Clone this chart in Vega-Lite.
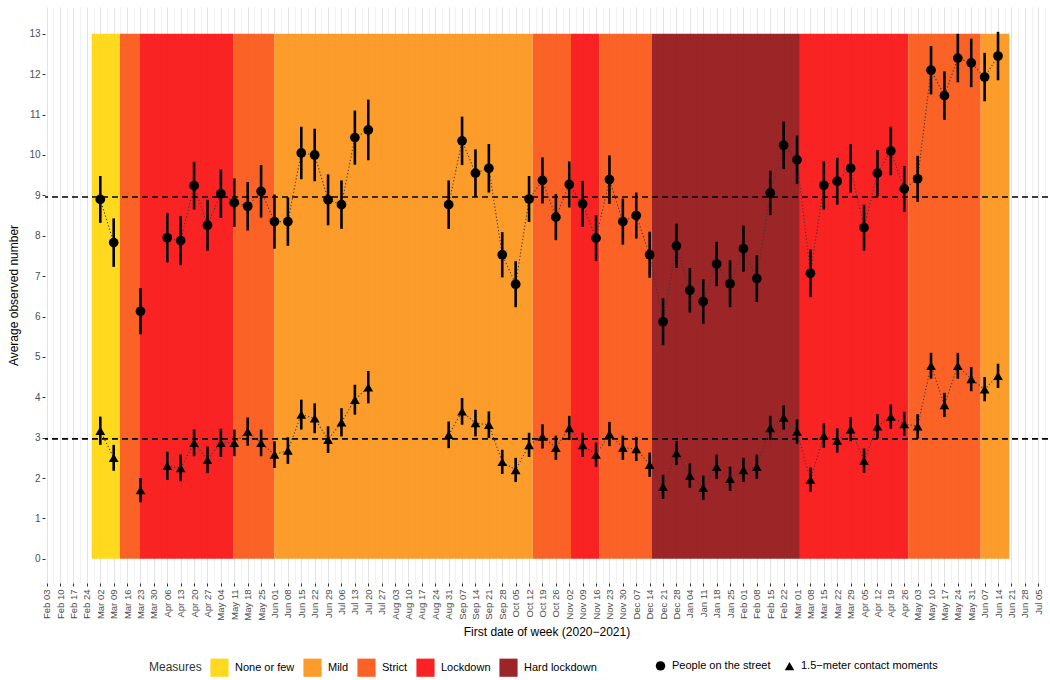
{
  "$schema": "https://vega.github.io/schema/vega-lite/v6.json",
  "autosize": {"type": "none"},
  "width": 1003,
  "height": 576,
  "padding": {"left": 45, "top": 7, "right": 2, "bottom": 97},
  "background": "white",
  "config": {
    "font": "Liberation Sans",
    "view": {"stroke": null},
    "axis": {"domain": false, "titleFontWeight": "normal", "titleColor": "#000000", "titleFontSize": 12, "labelColor": "#4d4d4d", "tickColor": "#333333", "tickSize": 3}
  },
  "datasets": {
    "bands": [
      {"m": "None or few", "s": "2020-02-26T12:00:00Z", "e": "2020-03-12T07:00:00Z"},
      {"m": "Strict", "s": "2020-03-12T07:00:00Z", "e": "2020-03-22T18:00:00Z"},
      {"m": "Lockdown", "s": "2020-03-22T18:00:00Z", "e": "2020-05-10T12:00:00Z"},
      {"m": "Strict", "s": "2020-05-10T12:00:00Z", "e": "2020-05-31T22:00:00Z"},
      {"m": "Mild", "s": "2020-05-31T22:00:00Z", "e": "2020-10-13T22:00:00Z"},
      {"m": "Strict", "s": "2020-10-13T22:00:00Z", "e": "2020-11-02T22:00:00Z"},
      {"m": "Lockdown", "s": "2020-11-02T22:00:00Z", "e": "2020-11-17T17:00:00Z"},
      {"m": "Strict", "s": "2020-11-17T17:00:00Z", "e": "2020-12-15T01:00:00Z"},
      {"m": "Hard lockdown", "s": "2020-12-15T01:00:00Z", "e": "2021-03-02T12:00:00Z"},
      {"m": "Lockdown", "s": "2021-03-02T12:00:00Z", "e": "2021-04-28T02:00:00Z"},
      {"m": "Strict", "s": "2021-04-28T02:00:00Z", "e": "2021-06-04T22:00:00Z"},
      {"m": "Mild", "s": "2021-06-04T22:00:00Z", "e": "2021-06-19T22:00:00Z"}
    ],
    "refs": [{"ref": 8.96}, {"ref": 2.97}],
    "weekly": [
      {"d": "2020-03-02", "s": "P", "g": "a", "v": 8.9, "lo": 8.32, "hi": 9.48},
      {"d": "2020-03-09", "s": "P", "g": "a", "v": 7.83, "lo": 7.23, "hi": 8.43},
      {"d": "2020-03-23", "s": "P", "g": "b", "v": 6.13, "lo": 5.56, "hi": 6.7},
      {"d": "2020-04-06", "s": "P", "g": "c", "v": 7.95, "lo": 7.34, "hi": 8.56},
      {"d": "2020-04-13", "s": "P", "g": "c", "v": 7.88, "lo": 7.27, "hi": 8.49},
      {"d": "2020-04-20", "s": "P", "g": "c", "v": 9.24, "lo": 8.65, "hi": 9.83},
      {"d": "2020-04-27", "s": "P", "g": "c", "v": 8.26, "lo": 7.63, "hi": 8.89},
      {"d": "2020-05-04", "s": "P", "g": "c", "v": 9.04, "lo": 8.44, "hi": 9.64},
      {"d": "2020-05-11", "s": "P", "g": "c", "v": 8.82, "lo": 8.22, "hi": 9.42},
      {"d": "2020-05-18", "s": "P", "g": "c", "v": 8.73, "lo": 8.13, "hi": 9.33},
      {"d": "2020-05-25", "s": "P", "g": "c", "v": 9.1, "lo": 8.45, "hi": 9.75},
      {"d": "2020-06-01", "s": "P", "g": "c", "v": 8.35, "lo": 7.68, "hi": 9.02},
      {"d": "2020-06-08", "s": "P", "g": "c", "v": 8.35, "lo": 7.75, "hi": 8.95},
      {"d": "2020-06-15", "s": "P", "g": "c", "v": 10.05, "lo": 9.4, "hi": 10.7},
      {"d": "2020-06-22", "s": "P", "g": "c", "v": 10.0, "lo": 9.35, "hi": 10.65},
      {"d": "2020-06-29", "s": "P", "g": "c", "v": 8.89, "lo": 8.26, "hi": 9.52},
      {"d": "2020-07-06", "s": "P", "g": "c", "v": 8.77, "lo": 8.17, "hi": 9.37},
      {"d": "2020-07-13", "s": "P", "g": "c", "v": 10.43, "lo": 9.76, "hi": 11.1},
      {"d": "2020-07-20", "s": "P", "g": "c", "v": 10.62, "lo": 9.87, "hi": 11.37},
      {"d": "2020-08-31", "s": "P", "g": "d", "v": 8.77, "lo": 8.17, "hi": 9.37},
      {"d": "2020-09-07", "s": "P", "g": "d", "v": 10.35, "lo": 9.75, "hi": 10.95},
      {"d": "2020-09-14", "s": "P", "g": "d", "v": 9.55, "lo": 8.96, "hi": 10.14},
      {"d": "2020-09-21", "s": "P", "g": "d", "v": 9.67, "lo": 9.07, "hi": 10.27},
      {"d": "2020-09-28", "s": "P", "g": "d", "v": 7.53, "lo": 6.97, "hi": 8.09},
      {"d": "2020-10-05", "s": "P", "g": "d", "v": 6.8, "lo": 6.23, "hi": 7.37},
      {"d": "2020-10-12", "s": "P", "g": "d", "v": 8.91, "lo": 8.34, "hi": 9.48},
      {"d": "2020-10-19", "s": "P", "g": "d", "v": 9.37, "lo": 8.8, "hi": 9.94},
      {"d": "2020-10-26", "s": "P", "g": "d", "v": 8.46, "lo": 7.89, "hi": 9.03},
      {"d": "2020-11-02", "s": "P", "g": "d", "v": 9.27, "lo": 8.7, "hi": 9.84},
      {"d": "2020-11-09", "s": "P", "g": "d", "v": 8.79, "lo": 8.22, "hi": 9.36},
      {"d": "2020-11-16", "s": "P", "g": "d", "v": 7.94, "lo": 7.37, "hi": 8.51},
      {"d": "2020-11-23", "s": "P", "g": "d", "v": 9.39, "lo": 8.79, "hi": 9.99},
      {"d": "2020-11-30", "s": "P", "g": "d", "v": 8.35, "lo": 7.78, "hi": 8.92},
      {"d": "2020-12-07", "s": "P", "g": "d", "v": 8.5, "lo": 7.93, "hi": 9.07},
      {"d": "2020-12-14", "s": "P", "g": "d", "v": 7.53, "lo": 6.96, "hi": 8.1},
      {"d": "2020-12-21", "s": "P", "g": "d", "v": 5.87, "lo": 5.29, "hi": 6.45},
      {"d": "2020-12-28", "s": "P", "g": "d", "v": 7.75, "lo": 7.2, "hi": 8.3},
      {"d": "2021-01-04", "s": "P", "g": "d", "v": 6.65, "lo": 6.1, "hi": 7.2},
      {"d": "2021-01-11", "s": "P", "g": "d", "v": 6.37, "lo": 5.82, "hi": 6.92},
      {"d": "2021-01-18", "s": "P", "g": "d", "v": 7.3, "lo": 6.75, "hi": 7.85},
      {"d": "2021-01-25", "s": "P", "g": "d", "v": 6.81, "lo": 6.23, "hi": 7.39},
      {"d": "2021-02-01", "s": "P", "g": "d", "v": 7.68, "lo": 7.11, "hi": 8.25},
      {"d": "2021-02-08", "s": "P", "g": "d", "v": 6.94, "lo": 6.36, "hi": 7.52},
      {"d": "2021-02-15", "s": "P", "g": "d", "v": 9.06, "lo": 8.51, "hi": 9.61},
      {"d": "2021-02-22", "s": "P", "g": "d", "v": 10.24, "lo": 9.65, "hi": 10.83},
      {"d": "2021-03-01", "s": "P", "g": "d", "v": 9.88, "lo": 9.28, "hi": 10.48},
      {"d": "2021-03-08", "s": "P", "g": "d", "v": 7.07, "lo": 6.48, "hi": 7.66},
      {"d": "2021-03-15", "s": "P", "g": "d", "v": 9.25, "lo": 8.65, "hi": 9.85},
      {"d": "2021-03-22", "s": "P", "g": "d", "v": 9.35, "lo": 8.77, "hi": 9.93},
      {"d": "2021-03-29", "s": "P", "g": "d", "v": 9.67, "lo": 9.07, "hi": 10.27},
      {"d": "2021-04-05", "s": "P", "g": "d", "v": 8.2, "lo": 7.63, "hi": 8.77},
      {"d": "2021-04-12", "s": "P", "g": "d", "v": 9.55, "lo": 8.98, "hi": 10.12},
      {"d": "2021-04-19", "s": "P", "g": "d", "v": 10.1, "lo": 9.5, "hi": 10.7},
      {"d": "2021-04-26", "s": "P", "g": "d", "v": 9.16, "lo": 8.59, "hi": 9.73},
      {"d": "2021-05-03", "s": "P", "g": "d", "v": 9.41, "lo": 8.84, "hi": 9.98},
      {"d": "2021-05-10", "s": "P", "g": "d", "v": 12.1, "lo": 11.5, "hi": 12.7},
      {"d": "2021-05-17", "s": "P", "g": "d", "v": 11.47, "lo": 10.87, "hi": 12.07},
      {"d": "2021-05-24", "s": "P", "g": "d", "v": 12.4, "lo": 11.8, "hi": 13.0},
      {"d": "2021-05-31", "s": "P", "g": "d", "v": 12.28, "lo": 11.68, "hi": 12.88},
      {"d": "2021-06-07", "s": "P", "g": "d", "v": 11.93, "lo": 11.33, "hi": 12.53},
      {"d": "2021-06-14", "s": "P", "g": "d", "v": 12.45, "lo": 11.85, "hi": 13.05},
      {"d": "2020-03-02", "s": "C", "g": "a", "v": 3.17, "lo": 2.82, "hi": 3.52},
      {"d": "2020-03-09", "s": "C", "g": "a", "v": 2.5, "lo": 2.18, "hi": 2.82},
      {"d": "2020-03-23", "s": "C", "g": "b", "v": 1.7, "lo": 1.4, "hi": 2.0},
      {"d": "2020-04-06", "s": "C", "g": "c", "v": 2.3, "lo": 1.95, "hi": 2.65},
      {"d": "2020-04-13", "s": "C", "g": "c", "v": 2.25, "lo": 1.92, "hi": 2.58},
      {"d": "2020-04-20", "s": "C", "g": "c", "v": 2.87, "lo": 2.54, "hi": 3.2},
      {"d": "2020-04-27", "s": "C", "g": "c", "v": 2.45, "lo": 2.12, "hi": 2.78},
      {"d": "2020-05-04", "s": "C", "g": "c", "v": 2.87, "lo": 2.52, "hi": 3.22},
      {"d": "2020-05-11", "s": "C", "g": "c", "v": 2.87, "lo": 2.54, "hi": 3.2},
      {"d": "2020-05-18", "s": "C", "g": "c", "v": 3.15, "lo": 2.8, "hi": 3.5},
      {"d": "2020-05-25", "s": "C", "g": "c", "v": 2.87, "lo": 2.54, "hi": 3.2},
      {"d": "2020-06-01", "s": "C", "g": "c", "v": 2.58, "lo": 2.25, "hi": 2.91},
      {"d": "2020-06-08", "s": "C", "g": "c", "v": 2.68, "lo": 2.35, "hi": 3.01},
      {"d": "2020-06-15", "s": "C", "g": "c", "v": 3.57, "lo": 3.2, "hi": 3.94},
      {"d": "2020-06-22", "s": "C", "g": "c", "v": 3.48, "lo": 3.11, "hi": 3.85},
      {"d": "2020-06-29", "s": "C", "g": "c", "v": 2.95, "lo": 2.62, "hi": 3.28},
      {"d": "2020-07-06", "s": "C", "g": "c", "v": 3.38, "lo": 3.03, "hi": 3.73},
      {"d": "2020-07-13", "s": "C", "g": "c", "v": 3.94, "lo": 3.57, "hi": 4.31},
      {"d": "2020-07-20", "s": "C", "g": "c", "v": 4.25, "lo": 3.85, "hi": 4.65},
      {"d": "2020-08-31", "s": "C", "g": "d", "v": 3.07, "lo": 2.74, "hi": 3.4},
      {"d": "2020-09-07", "s": "C", "g": "d", "v": 3.65, "lo": 3.32, "hi": 3.98},
      {"d": "2020-09-14", "s": "C", "g": "d", "v": 3.36, "lo": 3.03, "hi": 3.69},
      {"d": "2020-09-21", "s": "C", "g": "d", "v": 3.32, "lo": 2.99, "hi": 3.65},
      {"d": "2020-09-28", "s": "C", "g": "d", "v": 2.4, "lo": 2.1, "hi": 2.7},
      {"d": "2020-10-05", "s": "C", "g": "d", "v": 2.2, "lo": 1.9, "hi": 2.5},
      {"d": "2020-10-12", "s": "C", "g": "d", "v": 2.82, "lo": 2.52, "hi": 3.12},
      {"d": "2020-10-19", "s": "C", "g": "d", "v": 3.03, "lo": 2.73, "hi": 3.33},
      {"d": "2020-10-26", "s": "C", "g": "d", "v": 2.75, "lo": 2.45, "hi": 3.05},
      {"d": "2020-11-02", "s": "C", "g": "d", "v": 3.24, "lo": 2.94, "hi": 3.54},
      {"d": "2020-11-09", "s": "C", "g": "d", "v": 2.82, "lo": 2.52, "hi": 3.12},
      {"d": "2020-11-16", "s": "C", "g": "d", "v": 2.58, "lo": 2.28, "hi": 2.88},
      {"d": "2020-11-23", "s": "C", "g": "d", "v": 3.09, "lo": 2.79, "hi": 3.39},
      {"d": "2020-11-30", "s": "C", "g": "d", "v": 2.75, "lo": 2.45, "hi": 3.05},
      {"d": "2020-12-07", "s": "C", "g": "d", "v": 2.72, "lo": 2.42, "hi": 3.02},
      {"d": "2020-12-14", "s": "C", "g": "d", "v": 2.33, "lo": 2.03, "hi": 2.63},
      {"d": "2020-12-21", "s": "C", "g": "d", "v": 1.78, "lo": 1.48, "hi": 2.08},
      {"d": "2020-12-28", "s": "C", "g": "d", "v": 2.62, "lo": 2.32, "hi": 2.92},
      {"d": "2021-01-04", "s": "C", "g": "d", "v": 2.06, "lo": 1.76, "hi": 2.36},
      {"d": "2021-01-11", "s": "C", "g": "d", "v": 1.76, "lo": 1.46, "hi": 2.06},
      {"d": "2021-01-18", "s": "C", "g": "d", "v": 2.28, "lo": 1.98, "hi": 2.58},
      {"d": "2021-01-25", "s": "C", "g": "d", "v": 1.98, "lo": 1.68, "hi": 2.28},
      {"d": "2021-02-01", "s": "C", "g": "d", "v": 2.2, "lo": 1.9, "hi": 2.5},
      {"d": "2021-02-08", "s": "C", "g": "d", "v": 2.28, "lo": 1.98, "hi": 2.58},
      {"d": "2021-02-15", "s": "C", "g": "d", "v": 3.24, "lo": 2.94, "hi": 3.54},
      {"d": "2021-02-22", "s": "C", "g": "d", "v": 3.5, "lo": 3.2, "hi": 3.8},
      {"d": "2021-03-01", "s": "C", "g": "d", "v": 3.15, "lo": 2.85, "hi": 3.45},
      {"d": "2021-03-08", "s": "C", "g": "d", "v": 1.96, "lo": 1.66, "hi": 2.26},
      {"d": "2021-03-15", "s": "C", "g": "d", "v": 3.05, "lo": 2.75, "hi": 3.35},
      {"d": "2021-03-22", "s": "C", "g": "d", "v": 2.93, "lo": 2.63, "hi": 3.23},
      {"d": "2021-03-29", "s": "C", "g": "d", "v": 3.21, "lo": 2.91, "hi": 3.51},
      {"d": "2021-04-05", "s": "C", "g": "d", "v": 2.43, "lo": 2.13, "hi": 2.73},
      {"d": "2021-04-12", "s": "C", "g": "d", "v": 3.28, "lo": 2.98, "hi": 3.58},
      {"d": "2021-04-19", "s": "C", "g": "d", "v": 3.52, "lo": 3.22, "hi": 3.82},
      {"d": "2021-04-26", "s": "C", "g": "d", "v": 3.34, "lo": 3.04, "hi": 3.64},
      {"d": "2021-05-03", "s": "C", "g": "d", "v": 3.28, "lo": 2.98, "hi": 3.58},
      {"d": "2021-05-10", "s": "C", "g": "d", "v": 4.78, "lo": 4.46, "hi": 5.1},
      {"d": "2021-05-17", "s": "C", "g": "d", "v": 3.81, "lo": 3.51, "hi": 4.11},
      {"d": "2021-05-24", "s": "C", "g": "d", "v": 4.78, "lo": 4.46, "hi": 5.1},
      {"d": "2021-05-31", "s": "C", "g": "d", "v": 4.45, "lo": 4.15, "hi": 4.75},
      {"d": "2021-06-07", "s": "C", "g": "d", "v": 4.2, "lo": 3.9, "hi": 4.5},
      {"d": "2021-06-14", "s": "C", "g": "d", "v": 4.53, "lo": 4.23, "hi": 4.83}
    ]
  },
  "layer": [
    {
      "data": {"name": "bands", "format": {"parse": {"s": "date", "e": "date"}}},
      "mark": {"type": "rect", "fillOpacity": 0.93, "strokeWidth": 0},
      "encoding": {
        "x": {
          "field": "s", "type": "temporal",
          "scale": {"type": "utc", "nice": false, "domain": [{"utc": true, "year": 2020, "month": 2, "date": 2, "hours": 2, "minutes": 40}, {"utc": true, "year": 2021, "month": 7, "date": 10, "hours": 2, "minutes": 40}]},
          "axis": {
            "title": "First date of week (2020−2021)",
            "titlePadding": 6,
            "tickCount": 1000,
            "labelAngle": 270,
            "labelFontSize": 9.5,
            "labelOverlap": false,
            "labelFlush": false,
            "labelPadding": 3,
            "labelExpr": "utchours(datum.value) == 12 ? '' : utcFormat(datum.value, '%b %d')",
            "tickOpacity": {"condition": {"test": "utchours(datum.value) == 12", "value": 0}, "value": 1},
            "gridColor": {"condition": {"test": "utchours(datum.value) == 12", "value": "#f1f1f1"}, "value": "#e2e2e2"},
            "values": [
              {"utc": true, "year": 2020, "month": 2, "date": 3}, {"utc": true, "year": 2020, "month": 2, "date": 10}, {"utc": true, "year": 2020, "month": 2, "date": 17}, {"utc": true, "year": 2020, "month": 2, "date": 24},
              {"utc": true, "year": 2020, "month": 3, "date": 2}, {"utc": true, "year": 2020, "month": 3, "date": 9}, {"utc": true, "year": 2020, "month": 3, "date": 16}, {"utc": true, "year": 2020, "month": 3, "date": 23}, {"utc": true, "year": 2020, "month": 3, "date": 30},
              {"utc": true, "year": 2020, "month": 4, "date": 6}, {"utc": true, "year": 2020, "month": 4, "date": 13}, {"utc": true, "year": 2020, "month": 4, "date": 20}, {"utc": true, "year": 2020, "month": 4, "date": 27},
              {"utc": true, "year": 2020, "month": 5, "date": 4}, {"utc": true, "year": 2020, "month": 5, "date": 11}, {"utc": true, "year": 2020, "month": 5, "date": 18}, {"utc": true, "year": 2020, "month": 5, "date": 25},
              {"utc": true, "year": 2020, "month": 6, "date": 1}, {"utc": true, "year": 2020, "month": 6, "date": 8}, {"utc": true, "year": 2020, "month": 6, "date": 15}, {"utc": true, "year": 2020, "month": 6, "date": 22}, {"utc": true, "year": 2020, "month": 6, "date": 29},
              {"utc": true, "year": 2020, "month": 7, "date": 6}, {"utc": true, "year": 2020, "month": 7, "date": 13}, {"utc": true, "year": 2020, "month": 7, "date": 20}, {"utc": true, "year": 2020, "month": 7, "date": 27},
              {"utc": true, "year": 2020, "month": 8, "date": 3}, {"utc": true, "year": 2020, "month": 8, "date": 10}, {"utc": true, "year": 2020, "month": 8, "date": 17}, {"utc": true, "year": 2020, "month": 8, "date": 24}, {"utc": true, "year": 2020, "month": 8, "date": 31},
              {"utc": true, "year": 2020, "month": 9, "date": 7}, {"utc": true, "year": 2020, "month": 9, "date": 14}, {"utc": true, "year": 2020, "month": 9, "date": 21}, {"utc": true, "year": 2020, "month": 9, "date": 28},
              {"utc": true, "year": 2020, "month": 10, "date": 5}, {"utc": true, "year": 2020, "month": 10, "date": 12}, {"utc": true, "year": 2020, "month": 10, "date": 19}, {"utc": true, "year": 2020, "month": 10, "date": 26},
              {"utc": true, "year": 2020, "month": 11, "date": 2}, {"utc": true, "year": 2020, "month": 11, "date": 9}, {"utc": true, "year": 2020, "month": 11, "date": 16}, {"utc": true, "year": 2020, "month": 11, "date": 23}, {"utc": true, "year": 2020, "month": 11, "date": 30},
              {"utc": true, "year": 2020, "month": 12, "date": 7}, {"utc": true, "year": 2020, "month": 12, "date": 14}, {"utc": true, "year": 2020, "month": 12, "date": 21}, {"utc": true, "year": 2020, "month": 12, "date": 28},
              {"utc": true, "year": 2021, "month": 1, "date": 4}, {"utc": true, "year": 2021, "month": 1, "date": 11}, {"utc": true, "year": 2021, "month": 1, "date": 18}, {"utc": true, "year": 2021, "month": 1, "date": 25},
              {"utc": true, "year": 2021, "month": 2, "date": 1}, {"utc": true, "year": 2021, "month": 2, "date": 8}, {"utc": true, "year": 2021, "month": 2, "date": 15}, {"utc": true, "year": 2021, "month": 2, "date": 22},
              {"utc": true, "year": 2021, "month": 3, "date": 1}, {"utc": true, "year": 2021, "month": 3, "date": 8}, {"utc": true, "year": 2021, "month": 3, "date": 15}, {"utc": true, "year": 2021, "month": 3, "date": 22}, {"utc": true, "year": 2021, "month": 3, "date": 29},
              {"utc": true, "year": 2021, "month": 4, "date": 5}, {"utc": true, "year": 2021, "month": 4, "date": 12}, {"utc": true, "year": 2021, "month": 4, "date": 19}, {"utc": true, "year": 2021, "month": 4, "date": 26},
              {"utc": true, "year": 2021, "month": 5, "date": 3}, {"utc": true, "year": 2021, "month": 5, "date": 10}, {"utc": true, "year": 2021, "month": 5, "date": 17}, {"utc": true, "year": 2021, "month": 5, "date": 24}, {"utc": true, "year": 2021, "month": 5, "date": 31},
              {"utc": true, "year": 2021, "month": 6, "date": 7}, {"utc": true, "year": 2021, "month": 6, "date": 14}, {"utc": true, "year": 2021, "month": 6, "date": 21}, {"utc": true, "year": 2021, "month": 6, "date": 28},
              {"utc": true, "year": 2021, "month": 7, "date": 5},
              {"utc": true, "year": 2020, "month": 2, "date": 6, "hours": 12}, {"utc": true, "year": 2020, "month": 2, "date": 13, "hours": 12}, {"utc": true, "year": 2020, "month": 2, "date": 20, "hours": 12}, {"utc": true, "year": 2020, "month": 2, "date": 27, "hours": 12},
              {"utc": true, "year": 2020, "month": 3, "date": 5, "hours": 12}, {"utc": true, "year": 2020, "month": 3, "date": 12, "hours": 12}, {"utc": true, "year": 2020, "month": 3, "date": 19, "hours": 12}, {"utc": true, "year": 2020, "month": 3, "date": 26, "hours": 12},
              {"utc": true, "year": 2020, "month": 4, "date": 2, "hours": 12}, {"utc": true, "year": 2020, "month": 4, "date": 9, "hours": 12}, {"utc": true, "year": 2020, "month": 4, "date": 16, "hours": 12}, {"utc": true, "year": 2020, "month": 4, "date": 23, "hours": 12}, {"utc": true, "year": 2020, "month": 4, "date": 30, "hours": 12},
              {"utc": true, "year": 2020, "month": 5, "date": 7, "hours": 12}, {"utc": true, "year": 2020, "month": 5, "date": 14, "hours": 12}, {"utc": true, "year": 2020, "month": 5, "date": 21, "hours": 12}, {"utc": true, "year": 2020, "month": 5, "date": 28, "hours": 12},
              {"utc": true, "year": 2020, "month": 6, "date": 4, "hours": 12}, {"utc": true, "year": 2020, "month": 6, "date": 11, "hours": 12}, {"utc": true, "year": 2020, "month": 6, "date": 18, "hours": 12}, {"utc": true, "year": 2020, "month": 6, "date": 25, "hours": 12},
              {"utc": true, "year": 2020, "month": 7, "date": 2, "hours": 12}, {"utc": true, "year": 2020, "month": 7, "date": 9, "hours": 12}, {"utc": true, "year": 2020, "month": 7, "date": 16, "hours": 12}, {"utc": true, "year": 2020, "month": 7, "date": 23, "hours": 12}, {"utc": true, "year": 2020, "month": 7, "date": 30, "hours": 12},
              {"utc": true, "year": 2020, "month": 8, "date": 6, "hours": 12}, {"utc": true, "year": 2020, "month": 8, "date": 13, "hours": 12}, {"utc": true, "year": 2020, "month": 8, "date": 20, "hours": 12}, {"utc": true, "year": 2020, "month": 8, "date": 27, "hours": 12},
              {"utc": true, "year": 2020, "month": 9, "date": 3, "hours": 12}, {"utc": true, "year": 2020, "month": 9, "date": 10, "hours": 12}, {"utc": true, "year": 2020, "month": 9, "date": 17, "hours": 12}, {"utc": true, "year": 2020, "month": 9, "date": 24, "hours": 12},
              {"utc": true, "year": 2020, "month": 10, "date": 1, "hours": 12}, {"utc": true, "year": 2020, "month": 10, "date": 8, "hours": 12}, {"utc": true, "year": 2020, "month": 10, "date": 15, "hours": 12}, {"utc": true, "year": 2020, "month": 10, "date": 22, "hours": 12}, {"utc": true, "year": 2020, "month": 10, "date": 29, "hours": 12},
              {"utc": true, "year": 2020, "month": 11, "date": 5, "hours": 12}, {"utc": true, "year": 2020, "month": 11, "date": 12, "hours": 12}, {"utc": true, "year": 2020, "month": 11, "date": 19, "hours": 12}, {"utc": true, "year": 2020, "month": 11, "date": 26, "hours": 12},
              {"utc": true, "year": 2020, "month": 12, "date": 3, "hours": 12}, {"utc": true, "year": 2020, "month": 12, "date": 10, "hours": 12}, {"utc": true, "year": 2020, "month": 12, "date": 17, "hours": 12}, {"utc": true, "year": 2020, "month": 12, "date": 24, "hours": 12}, {"utc": true, "year": 2020, "month": 12, "date": 31, "hours": 12},
              {"utc": true, "year": 2021, "month": 1, "date": 7, "hours": 12}, {"utc": true, "year": 2021, "month": 1, "date": 14, "hours": 12}, {"utc": true, "year": 2021, "month": 1, "date": 21, "hours": 12}, {"utc": true, "year": 2021, "month": 1, "date": 28, "hours": 12},
              {"utc": true, "year": 2021, "month": 2, "date": 4, "hours": 12}, {"utc": true, "year": 2021, "month": 2, "date": 11, "hours": 12}, {"utc": true, "year": 2021, "month": 2, "date": 18, "hours": 12}, {"utc": true, "year": 2021, "month": 2, "date": 25, "hours": 12},
              {"utc": true, "year": 2021, "month": 3, "date": 4, "hours": 12}, {"utc": true, "year": 2021, "month": 3, "date": 11, "hours": 12}, {"utc": true, "year": 2021, "month": 3, "date": 18, "hours": 12}, {"utc": true, "year": 2021, "month": 3, "date": 25, "hours": 12},
              {"utc": true, "year": 2021, "month": 4, "date": 1, "hours": 12}, {"utc": true, "year": 2021, "month": 4, "date": 8, "hours": 12}, {"utc": true, "year": 2021, "month": 4, "date": 15, "hours": 12}, {"utc": true, "year": 2021, "month": 4, "date": 22, "hours": 12}, {"utc": true, "year": 2021, "month": 4, "date": 29, "hours": 12},
              {"utc": true, "year": 2021, "month": 5, "date": 6, "hours": 12}, {"utc": true, "year": 2021, "month": 5, "date": 13, "hours": 12}, {"utc": true, "year": 2021, "month": 5, "date": 20, "hours": 12}, {"utc": true, "year": 2021, "month": 5, "date": 27, "hours": 12},
              {"utc": true, "year": 2021, "month": 6, "date": 3, "hours": 12}, {"utc": true, "year": 2021, "month": 6, "date": 10, "hours": 12}, {"utc": true, "year": 2021, "month": 6, "date": 17, "hours": 12}, {"utc": true, "year": 2021, "month": 6, "date": 24, "hours": 12},
              {"utc": true, "year": 2021, "month": 7, "date": 1, "hours": 12}, {"utc": true, "year": 2021, "month": 7, "date": 8, "hours": 12}
            ]
          }
        },
        "x2": {"field": "e"},
        "y": {
          "datum": 0, "type": "quantitative",
          "scale": {"domain": [-0.6, 13.665], "nice": false, "zero": false},
          "axis": {
            "title": "Average observed number",
            "titlePadding": 8,
            "tickCount": 1000,
            "labelFontSize": 10,
            "labelPadding": 2,
            "values": [-0.5, 0, 0.5, 1, 1.5, 2, 2.5, 3, 3.5, 4, 4.5, 5, 5.5, 6, 6.5, 7, 7.5, 8, 8.5, 9, 9.5, 10, 10.5, 11, 11.5, 12, 12.5, 13, 13.5],
            "labelExpr": "datum.value % 1 == 0 ? format(datum.value, 'd') : ''",
            "tickOpacity": {"condition": {"test": "datum.value % 1 != 0", "value": 0}, "value": 1},
            "gridColor": {"condition": {"test": "datum.value % 1 != 0", "value": "#f1f1f1"}, "value": "#e2e2e2"}
          }
        },
        "y2": {"datum": 13},
        "color": {
          "field": "m", "type": "nominal",
          "scale": {"domain": ["None or few", "Mild", "Strict", "Lockdown", "Hard lockdown"], "range": ["#fed60d", "#fc951a", "#fb5616", "#fa1212", "#941418"]},
          "legend": {
            "orient": "none", "legendX": 104, "legendY": 651,
            "direction": "horizontal", "title": "Measures", "titleOrient": "left",
            "titleFontSize": 12, "titleFontWeight": "normal", "titleColor": "#333333", "titlePadding": 8,
            "labelFontSize": 11, "labelColor": "#000000", "labelOffset": 6,
            "symbolType": "square", "symbolSize": 330, "symbolStrokeWidth": 0, "symbolOpacity": 0.93,
            "columnPadding": 8
          }
        }
      }
    },
    {
      "data": {"name": "refs"},
      "mark": {"type": "rule", "color": "#000000", "strokeWidth": 1.6, "strokeDash": [6, 4]},
      "encoding": {"y": {"field": "ref", "type": "quantitative"}}
    },
    {
      "data": {"name": "weekly", "format": {"parse": {"d": "date"}}},
      "layer": [
        {
          "mark": {"type": "line", "color": "#3a3a3a", "strokeWidth": 1.1, "strokeDash": [1.2, 2.2]},
          "encoding": {
            "x": {"field": "d", "type": "temporal"},
            "y": {"field": "v", "type": "quantitative"},
            "detail": [{"field": "g"}, {"field": "s"}]
          }
        },
        {
          "mark": {"type": "rule", "color": "#000000", "strokeWidth": 2.6},
          "encoding": {
            "x": {"field": "d", "type": "temporal"},
            "y": {"field": "lo", "type": "quantitative"},
            "y2": {"field": "hi"}
          }
        },
        {
          "mark": {"type": "point", "filled": true, "color": "#000000", "opacity": 1, "size": 95},
          "encoding": {
            "x": {"field": "d", "type": "temporal"},
            "y": {"field": "v", "type": "quantitative"},
            "shape": {
              "field": "s", "type": "nominal",
              "scale": {"domain": ["P", "C"], "range": ["circle", "triangle-up"]},
              "legend": {
                "orient": "none", "legendX": 610, "legendY": 653,
                "direction": "horizontal", "title": null,
                "labelExpr": "datum.label == 'P' ? 'People on the street' : '1.5−meter contact moments'",
                "labelFontSize": 11, "labelColor": "#000000", "labelOffset": 6,
                "symbolFillColor": "#000000", "symbolStrokeColor": "#000000", "symbolSize": 90,
                "columnPadding": 10
              }
            }
          }
        }
      ]
    }
  ]
}
